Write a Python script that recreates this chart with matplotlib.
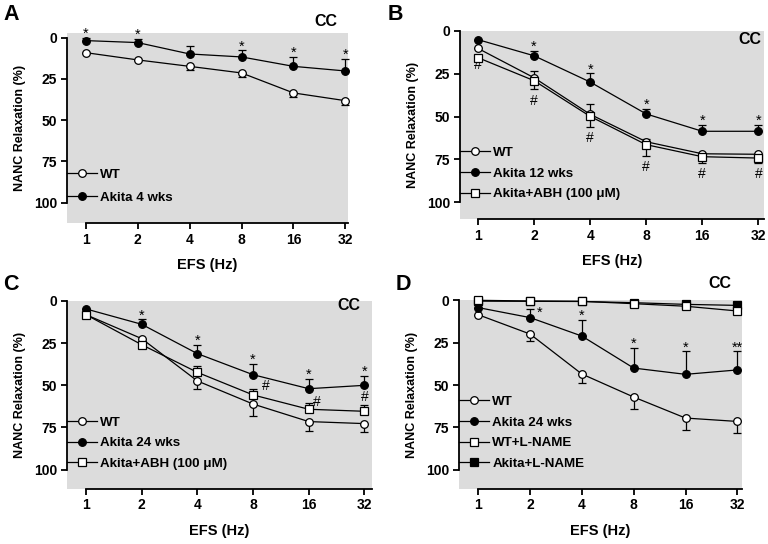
import matplotlib.pyplot as plt
from matplotlib.lines import Line2D
import numpy as np

plt.rcParams['font.family'] = ['Liberation Sans', 'DejaVu Sans']
plt.rcParams['font.weight'] = 'bold'
plt.rcParams['axes.labelweight'] = 'bold'

freq_labels = ['1', '2', '4', '8', '16', '32']
xpos = np.arange(len(freq_labels))

# --- Panel A ---
a_wt = [9.1, 13.5, 17.4, 21.4, 33.5, 38.2]
a_wt_err = [0.0, 0.0, 2.0, 2.6, 2.6, 2.6]
a_ak4 = [1.8, 3.0, 9.9, 11.7, 17.4, 20.2]
a_ak4_err = [1.8, 2.2, 4.6, 4.0, 5.5, 7.5]
a_stars = [0, 1, 3, 4, 5]

# --- Panel B ---
b_wt = [10.3, 27.4, 48.7, 64.7, 71.7, 72.0]
b_wt_err = [0.0, 3.9, 5.8, 1.5, 0.0, 0.0]
b_ak12 = [5.2, 14.6, 29.9, 48.5, 58.6, 58.6]
b_ak12_err = [0.0, 2.8, 5.0, 3.1, 3.6, 3.6]
b_abh = [15.7, 29.1, 49.9, 66.4, 73.4, 74.2]
b_abh_err = [0.0, 5.1, 6.2, 6.4, 3.5, 2.7]
b_stars = [1, 2, 3, 4, 5]
b_hash = [0, 1, 2, 3, 4, 5]

# --- Panel C ---
c_wt = [8.1, 22.3, 47.4, 61.1, 71.5, 72.7]
c_wt_err = [0.0, 0.0, 5.0, 7.1, 5.4, 5.0]
c_ak24 = [4.7, 13.8, 31.2, 43.7, 52.0, 50.0]
c_ak24_err = [0.0, 2.9, 5.3, 6.5, 5.6, 5.5]
c_abh = [8.1, 25.9, 42.3, 55.7, 64.2, 65.4]
c_abh_err = [0.0, 0.0, 3.8, 3.7, 3.5, 3.5]
c_stars = [1, 2, 3, 4, 5]
c_hash = [3, 4, 5]

# --- Panel D ---
d_wt = [8.5, 19.9, 43.5, 57.1, 69.5, 71.5]
d_wt_err = [0.0, 4.3, 5.3, 7.3, 6.9, 6.6]
d_ak24 = [4.3, 10.2, 21.1, 40.0, 43.7, 41.1]
d_ak24_err = [0.0, 5.3, 9.7, 11.9, 13.6, 11.0]
d_wtln = [0.0, 0.4, 0.6, 2.0, 3.5, 6.3]
d_akln = [0.5, 0.6, 0.7, 1.4, 2.4, 3.0]
d_stars = [1, 2, 3, 4, 5]
d_star_txt = ['*', '*', '*', '*', '**']

BG = '#dcdcdc'
TICK_FS = 10
LEG_FS = 9.6

fig = plt.figure(figsize=(7.68, 5.44), dpi=100)
W, H = 768.0, 544.0


def make_ax(l, t, r, b, ylo, yhi, xlo, xhi):
    ax = fig.add_axes([l / W, 1 - b / H, (r - l) / W, (b - t) / H])
    ax.set_facecolor(BG)
    ax.set_ylim(yhi, ylo)
    ax.set_xlim(xlo, xhi)
    for s in ['top', 'right']:
        ax.spines[s].set_visible(False)
    ax.spines['left'].set_bounds(0, 100)
    ax.spines['bottom'].set_bounds(0, xhi)
    ax.spines['left'].set_linewidth(1.3)
    ax.spines['bottom'].set_linewidth(1.3)
    ax.set_yticks([0, 25, 50, 75, 100])
    ax.set_xticks(xpos)
    ax.set_xticklabels(freq_labels)
    ax.tick_params(width=1.3, length=4, labelsize=TICK_FS, pad=3)
    for lab in ax.get_xticklabels() + ax.get_yticklabels():
        lab.set_fontweight('bold')
    ax.set_xlabel('EFS (Hz)', fontsize=10.5, labelpad=8)
    ax.set_ylabel('NANC Relaxation (%)', fontsize=9, labelpad=6)
    return ax


def style(marker, face):
    ms = 5.5 if marker == 'o' else 5.2
    return dict(color='black', lw=0.9, marker=marker, ms=ms, mfc=face,
                mec='black', mew=0.9)


def series(ax, y, err, marker, face, up=False):
    err = np.asarray(err)
    zero = np.zeros_like(err)
    yerr = [err, zero] if up else [zero, err]
    ax.errorbar(xpos, y, yerr=yerr, elinewidth=0.9, capsize=3, capthick=0.9,
                clip_on=False, zorder=3, **style(marker, face))


def stars(ax, idx, y, err, txt=None, offs=None):
    for k, i in enumerate(idx):
        t = txt[k] if txt else '*'
        o = offs[k] if offs else (0, 0)
        ax.annotate(t, (xpos[i], y[i] - err[i]), xytext=o,
                    textcoords='offset points', ha='center', va='baseline',
                    fontsize=10.5, fontweight='normal', annotation_clip=False)


def hashes(ax, idx, y, err, offs):
    for k, i in enumerate(idx):
        ax.annotate('#', (xpos[i], y[i] + err[i]), xytext=offs[k],
                    textcoords='offset points', ha='center', va='center',
                    fontsize=10, fontweight='normal', annotation_clip=False)


def legend(ax, entries, spacing):
    handles = [Line2D([], [], **style(m, f)) for m, f, _ in entries]
    labels = [lab for _, _, lab in entries]
    ax.legend(handles, labels, loc='lower left', bbox_to_anchor=(0, 0.1),
              frameon=False, borderpad=0, borderaxespad=0, handlelength=2.25,
              handletextpad=0.25, labelspacing=spacing,
              prop={'size': LEG_FS, 'weight': 'bold'})


# A
axA = make_ax(67, 33, 348, 223, -2.8, 112.3, -0.36, 5.05)
series(axA, a_wt, a_wt_err, 'o', 'white')
series(axA, a_ak4, a_ak4_err, 'o', 'black', up=True)
stars(axA, a_stars, a_ak4, a_ak4_err)
legend(axA, [('o', 'white', 'WT'), ('o', 'black', 'Akita 4 wks')], 0.83)

# B
axB = make_ax(460, 30.7, 764, 219, 0, 109.7, -0.32, 5.1)
series(axB, b_wt, b_wt_err, 'o', 'white', up=True)
series(axB, b_ak12, b_ak12_err, 'o', 'black', up=True)
series(axB, b_abh, b_abh_err, 's', 'white')
stars(axB, b_stars, b_ak12, b_ak12_err)
hashes(axB, b_hash, b_abh, b_abh_err, [(0, -5)] + [(0, -8)] * 5)
legend(axB, [('o', 'white', 'WT'), ('o', 'black', 'Akita 12 wks'),
             ('s', 'white', 'Akita+ABH (100 μM)')], 0.62)

# C
axC = make_ax(67, 301, 371.7, 488.7, 0, 111.3, -0.34, 5.13)
series(axC, c_wt, c_wt_err, 'o', 'white')
series(axC, c_ak24, c_ak24_err, 'o', 'black', up=True)
series(axC, c_abh, c_abh_err, 's', 'white', up=True)
stars(axC, c_stars, c_ak24, c_ak24_err)
hashes(axC, c_hash, c_abh, [-e for e in c_abh_err], [(9, 2), (6, 1), (0, 6)])
legend(axC, [('o', 'white', 'WT'), ('o', 'black', 'Akita 24 wks'),
             ('s', 'white', 'Akita+ABH (100 μM)')], 0.62)

# D
axD = make_ax(459, 300.3, 742, 488.7, 0, 111.2, -0.37, 5.09)
series(axD, d_wt, d_wt_err, 'o', 'white')
series(axD, d_ak24, d_ak24_err, 'o', 'black', up=True)
series(axD, d_akln, np.zeros(6), 's', 'black')
series(axD, d_wtln, np.zeros(6), 's', 'white')
stars(axD, d_stars, d_ak24, d_ak24_err, d_star_txt,
      [(7, -6), (0, 0), (0, 0), (0, 0), (0, 0)])
legend(axD, [('o', 'white', 'WT'), ('o', 'black', 'Akita 24 wks'),
             ('s', 'white', 'WT+L-NAME'), ('s', 'black', 'Akita+L-NAME')], 0.62)

# panel letters and "CC" tags
for lx, ly, s in [(3, 4, 'A'), (388, 4, 'B'), (3, 274, 'C'), (396, 274, 'D')]:
    fig.text(lx / W, 1 - ly / H, s, fontsize=15.5, fontweight='bold', va='top', ha='left')
for cx, cy in [(326, 22), (750, 40), (349, 306), (720, 283)]:
    fig.text(cx / W, 1 - cy / H, 'CC', fontsize=11.5, fontweight='bold', va='center', ha='center')

plt.savefig('out.png', dpi=100)
